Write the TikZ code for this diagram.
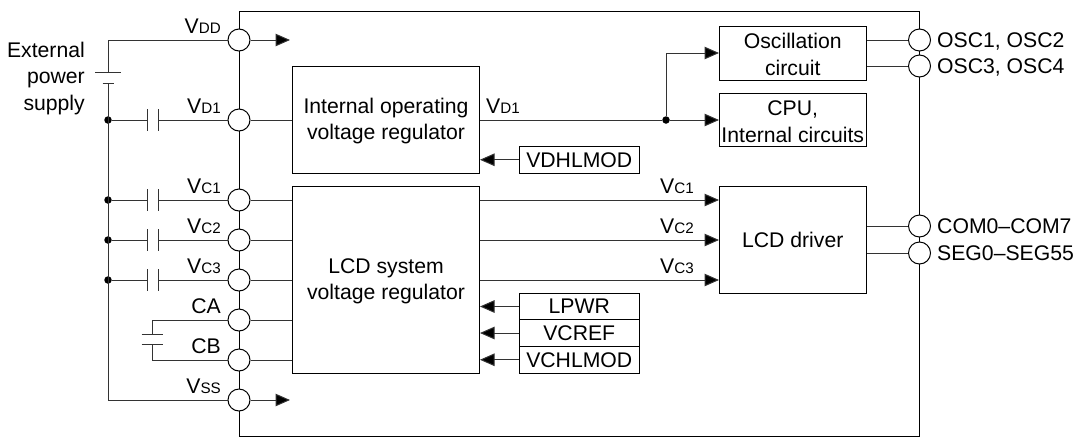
\documentclass[tikz,border=0pt]{standalone}
\usepackage{fontspec}
\setmainfont{Liberation Sans}
\usetikzlibrary{arrows.meta}
\definecolor{ln}{gray}{0.2}
\tikzset{
  wire/.style={draw=ln,line width=1pt},
  go/.style={wire,-{Triangle[length=14.5pt,width=12.5pt,fill=black]}},
  pin/.style={circle,draw=black,fill=white,line width=1pt,minimum size=22pt,inner sep=0pt},
  dotn/.style={circle,fill=black,minimum size=7.5pt,inner sep=0pt},
  block/.style={rectangle,draw=black,line width=1pt,inner sep=0pt,align=center,font=\fontsize{21.2}{26.7}\selectfont},
  lab/.style={inner sep=0pt,font=\fontsize{21.2}{26.7}\selectfont},
  plate/.style={draw=ln,line width=1pt},
}
\newcommand{\VV}[1]{V{\fontsize{15.2}{16}\selectfont #1}}
\newcommand{\tp}{\rule{0pt}{18pt}}
\begin{document}
\begin{tikzpicture}[x=1pt,y=-1pt]
\useasboundingbox (0,0) rectangle (1083,437);
% outer chip
\node[block,minimum width=680.5pt,minimum height=425pt] (chip) at (579.25,223.5) {};
% blocks
\node[block,minimum width=187pt,minimum height=106.5pt] (reg) at (386,119.75) {\tp Internal operating\\voltage regulator};
\node[block,minimum width=187pt,minimum height=186.5pt] (lcdreg) at (386,279.75) {\tp LCD system\\voltage regulator};
\node[block,minimum width=146.5pt,minimum height=53.5pt] (osc) at (792.75,53.25) {\tp Oscillation\\circuit};
\node[block,minimum width=146.5pt,minimum height=53.5pt] (cpu) at (792.75,119.75) {\tp CPU,\\Internal circuits};
\node[block,minimum width=146.5pt,minimum height=106.5pt] (drv) at (792.75,239.75) {LCD driver};
\node[block,minimum width=120.5pt,minimum height=26.5pt] (vdh) at (579.25,159.75) {VDHLMOD};
\node[block,minimum width=120.5pt,minimum height=26.5pt] (lpwr) at (579.25,306.5) {LPWR};
\node[block,minimum width=120.5pt,minimum height=26.5pt] (vcref) at (579.25,333) {VCREF};
\node[block,minimum width=120.5pt,minimum height=26.5pt] (vchl) at (579.25,359.75) {VCHLMOD};
% pins
\node[pin] (pdd) at (239,40) {};
\node[pin] (pd1) at (239,120) {};
\node[pin] (pc1) at (239,200) {};
\node[pin] (pc2) at (239,240) {};
\node[pin] (pc3) at (239,280) {};
\node[pin] (pca) at (239,320) {};
\node[pin] (pcb) at (239,360) {};
\node[pin] (pss) at (239,400) {};
\node[pin] (po1) at (919.5,40) {};
\node[pin] (po3) at (919.5,66) {};
\node[pin] (pcom) at (919.5,226) {};
\node[pin] (pseg) at (919.5,253) {};
% left rail
\node[dotn] (d1) at (108,120) {};
\node[dotn] (d2) at (108,200) {};
\node[dotn] (d3) at (108,240) {};
\node[dotn] (d4) at (108,280) {};
\coordinate (railtop) at (108,40);
\coordinate (railbot) at (108,400);
\coordinate (battp) at (108,72.5);
\coordinate (battn) at (108,83.5);
\draw[wire] (pdd.west) -- (railtop) -- (battp);
\draw[wire] (battn) -- (railbot) -- (pss.west);
\draw[plate] (95,72.5) -- (121,72.5);
\draw[plate] (102.5,83.5) -- (113.5,83.5);
% decoupling capacitors
\foreach \d/\p/\y in {d1/pd1/120,d2/pc1/200,d3/pc2/240,d4/pc3/280}{
  \coordinate (ca) at (147.5,\y);
  \coordinate (cb) at (158.5,\y);
  \draw[wire] (\d) -- (ca);
  \draw[wire] (cb) -- (\p.west);
  \draw[plate] (147.5,\y-10.7) -- (147.5,\y+10.7);
  \draw[plate] (158.5,\y-10.7) -- (158.5,\y+10.7);
}
% CA-CB capacitor
\coordinate (cap1) at (152,334);
\coordinate (cap2) at (152,344.7);
\draw[wire] (pca.west) -- (152,320) -- (cap1);
\draw[wire] (pcb.west) -- (152,360) -- (cap2);
\draw[plate] (141.5,334) -- (163,334);
\draw[plate] (141.5,344.7) -- (163,344.7);
% power arrows
\coordinate (addend) at (290,40);
\coordinate (assend) at (290,400);
\draw[go] (pdd.east) -- (addend);
\draw[go] (pss.east) -- (assend);
% pin to block
\draw[wire] (pd1.east) -- (reg.west|-pd1);
\foreach \p in {pc1,pc2,pc3,pca,pcb}{\draw[wire] (\p.east) -- (lcdreg.west|-\p);}
% VD1 distribution
\node[dotn] (vdot) at (666,120) {};
\draw[wire] (reg.east|-vdot) -- (vdot);
\draw[go] (vdot) -- (cpu.west|-vdot);
\coordinate (vup) at (666,53);
\draw[go] (vdot) -- (vup) -- (osc.west|-vup);
% VC lines
\foreach \y in {200,240,280}{
  \coordinate (vl) at (479.5,\y);
  \draw[go] (vl) -- (drv.west|-vl);
}
% control arrows
\draw[go] (vdh.west) -- (reg.east|-vdh);
\draw[go] (lpwr.west) -- (lcdreg.east|-lpwr);
\draw[go] (vcref.west) -- (lcdreg.east|-vcref);
\draw[go] (vchl.west) -- (lcdreg.east|-vchl);
% right pins
\draw[wire] (osc.east|-po1) -- (po1.west);
\draw[wire] (osc.east|-po3) -- (po3.west);
\draw[wire] (drv.east|-pcom) -- (pcom.west);
\draw[wire] (drv.east|-pseg) -- (pseg.west);
% labels
\node[lab,anchor=base east] (ext) at (85,57) {External};
\node[lab,anchor=base east] (pow) at (85,83.5) {power};
\node[lab,anchor=base east] (sup) at (85,110) {supply};
\node[lab,anchor=base east] (ldd) at (221,33) {\VV{DD}};
\node[lab,anchor=base east] (ld1) at (221,113) {\VV{D1}};
\node[lab,anchor=base east] (lc1) at (221,193) {\VV{C1}};
\node[lab,anchor=base east] (lc2) at (221,233) {\VV{C2}};
\node[lab,anchor=base east] (lc3) at (221,273) {\VV{C3}};
\node[lab,anchor=base east] (lca) at (221,313) {CA};
\node[lab,anchor=base east] (lcb) at (221,353) {CB};
\node[lab,anchor=base east] (lss) at (221,393) {\VV{SS}};
\node[lab,anchor=base west] (rd1) at (486,113) {\VV{D1}};
\node[lab,anchor=base east] (rc1) at (694,193) {\VV{C1}};
\node[lab,anchor=base east] (rc2) at (694,233) {\VV{C2}};
\node[lab,anchor=base east] (rc3) at (694,273) {\VV{C3}};
\node[lab,anchor=base west] (to1) at (937,47) {OSC1, OSC2};
\node[lab,anchor=base west] (to3) at (937,73) {OSC3, OSC4};
\node[lab,anchor=base west] (tcom) at (937,233) {COM0–COM7};
\node[lab,anchor=base west] (tseg) at (937,260) {SEG0–SEG55};
\end{tikzpicture}
\end{document}
